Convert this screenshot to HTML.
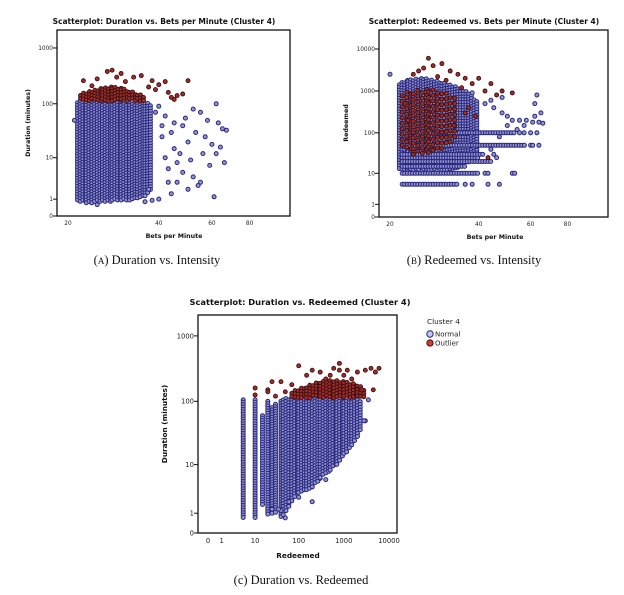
<!DOCTYPE html>
<html><head><meta charset="utf-8">
<style>
body{margin:0;background:#fff}
svg{display:block}
.t{font-family:"DejaVu Sans","Liberation Sans",sans-serif;font-weight:bold;fill:#111}
.tk{font-family:"DejaVu Sans","Liberation Sans",sans-serif;fill:#222}
.cap{font-family:"Liberation Serif",serif;fill:#111;font-size:12.5px}
.nm{fill:#9494d2;stroke:#28287c;stroke-width:1}
.ol{fill:#a02c2a;stroke:#3a1010;stroke-width:0.9}
.lg.nm{fill:#c4c4ec}
.lg.ol{fill:#d03a30}
</style></head>
<body>
<svg id="root" width="624" height="595" viewBox="0 0 624 595" xmlns="http://www.w3.org/2000/svg">
<rect width="624" height="595" fill="#fff"/>
<g>
<text class="t" x="164" y="24" font-size="7.5" text-anchor="middle">Scatterplot: Duration vs. Bets per Minute (Cluster 4)</text>
<g id="pa"></g>
<rect x="57" y="30" width="233" height="186" fill="none" stroke="#111" stroke-width="1.3"/>
<g id="axa"></g>
<text class="t" x="174" y="238" font-size="6.3" text-anchor="middle">Bets per Minute</text>
<text class="t" x="0" y="0" font-size="6.3" text-anchor="middle" transform="translate(30,123) rotate(-90)">Duration (minutes)</text>
<text class="cap" x="157" y="264" text-anchor="middle">(<tspan style="font-variant:small-caps">a</tspan>) Duration vs. Intensity</text>
</g>
<g>
<text class="t" x="484" y="24" font-size="7.5" text-anchor="middle">Scatterplot: Redeemed vs. Bets per Minute (Cluster 4)</text>
<g id="pb"></g>
<rect x="379" y="30" width="229" height="187" fill="none" stroke="#111" stroke-width="1.3"/>
<g id="axb"></g>
<text class="t" x="495" y="239" font-size="6.3" text-anchor="middle">Bets per Minute</text>
<text class="t" x="0" y="0" font-size="6.3" text-anchor="middle" transform="translate(348,123) rotate(-90)">Redeemed</text>
<text class="cap" x="474" y="264" text-anchor="middle">(<tspan style="font-variant:small-caps">b</tspan>) Redeemed vs. Intensity</text>
</g>
<g>
<text class="t" x="300" y="305" font-size="8.3" text-anchor="middle">Scatterplot: Duration vs. Redeemed (Cluster 4)</text>
<g id="pc"></g>
<rect x="198" y="315" width="199" height="218" fill="none" stroke="#111" stroke-width="1.3"/>
<g id="axc"></g>
<text class="t" x="298" y="558" font-size="7.3" text-anchor="middle">Redeemed</text>
<text class="t" x="0" y="0" font-size="7.3" text-anchor="middle" transform="translate(167,424) rotate(-90)">Duration (minutes)</text>
<g>
<text class="tk" x="427" y="324" font-size="7.3">Cluster 4</text>
<g><circle cx="430" cy="334" r="3.2" class="nm lg"/><text class="tk" x="435" y="336.5" font-size="7">Normal</text></g>
<g><circle cx="430" cy="343" r="3.2" class="ol lg"/><text class="tk" x="435" y="345.5" font-size="7">Outlier</text></g>
</g>
<text class="cap" x="301" y="584" text-anchor="middle">(c) Duration vs. Redeemed</text>
</g>
</svg>
<script>
// ---------- Chart A data: Duration vs Bets per Minute ----------
const aCoreX=[21.5,23,24,26,28,30,32,34,36,38];
const aCoreLo=[0.8,0.7,0.7,0.8,0.8,0.9,0.9,1,1.2,2];
const aCoreHi=[110,110,110,110,110,110,110,108,105,95];
const aNormX=[21,40,42,44,45,46,48,50,52,55,58,60,62,63,65,67,62,61,55,50,48,46,44,42,41,43,47,49,51,53,56,57,59,64,66,45,52,54,40,38,36,25,39,41,43,37];
const aNormY=[50,90,60,30,15,8,40,20,80,70,50,18,100,45,35,33,12,1.2,3,2,5,3,1.5,10,25,6,12,55,9,30,12,25,7,16,8,45,4,2.5,1,0.9,0.8,0.6,70,40,3,2];
const aOutCoreX=[22,24,26,28,30,32,34,36];
const aOutCoreHi=[150,170,190,200,190,170,150,135];
const aOutX=[22.5,24,25,27,28,29,30,31,33,35,38,40,42,44,46,48,50,39,37,43,45];
const aOutY=[260,210,280,380,400,300,350,250,300,320,260,220,250,130,140,150,260,180,200,160,120];
const aXTicks=[20,40,60,80];
const aYTicks=[0,1,10,100,1000];
// ---------- Chart B data: Redeemed vs Bets per Minute ----------
const bCoreX=[21.5,23,26,30,34,37,40];
const bCoreLo=[12,12,12,12,14,18,25];
const bCoreHi=[1500,1800,2000,1600,1200,900,500];
const bBandY=[5,10,15,20,25,30,50,100];
const bBandX0=[22,22,22,22,22,22,22,22];
const bBandX1=[34,40,36,44,40,42,58,53];
const bNormX=[20,38,42,45,48,50,52,55,57,60,62,63,65,66,58,54,50,47,45,46,44,62,64,61,36,38,43,47,42,43,52,53,60,61,64,55,57,63,44,48];
const bNormY=[2500,900,500,400,300,250,200,200,150,100,500,800,300,170,200,120,150,80,30,25,40,250,180,180,5,5,5,5,10,10,10,10,50,50,50,100,100,100,600,700];
const bOutCoreX=[22,24,27,30,32,34];
const bOutCoreLo=[40,30,30,35,50,80];
const bOutCoreHi=[900,1000,1100,1000,800,600];
const bOutX=[24,26,27,28,30,32,34,36,40,44,48,52,46,42,38,35,25,29,31,43,37,22.5,23,33,36,39];
const bOutY=[2500,3500,6000,4000,4500,3000,2500,2000,2000,1500,1000,900,800,1000,1500,1200,3000,2200,1800,25,400,500,200,150,300,250];
const bXTicks=[20,40,60,80];
const bYTicks=[0,1,10,100,1000,10000];
// ---------- Chart C data: Duration vs Redeemed ----------
const cStripeX=[5,10,15,20,25,30,40];
const cStripeLo=[0.7,0.7,1.5,0.8,1,1,0.7];
const cStripeHi=[105,105,60,100,80,90,100];
const cCoreX=[45,70,100,150,200,300,500,700,1000,1500,2000,2600];
const cCoreLo=[0.8,2,3,3.5,4,5.5,8,10,14,20,28,45];
const cCoreHi=[110,110,110,110,110,110,110,110,110,110,110,90];
const cNormX=[100,200,300,400,50,60,40,3000,3500,2800,35,25];
const cNormY=[2.5,2,6,5.5,0.7,2,1.2,50,105,50,1.3,1.3];
const cOutCoreX=[70,150,300,600,1000,2000,3000];
const cOutCoreHi=[140,170,200,210,200,180,150];
const cOutX=[10,20,25,30,40,50,70,100,150,200,300,500,800,1000,1500,2000,3000,4000,5000,6000,4500,2500,800,400,10,20,600,1200];
const cOutY=[160,150,200,120,200,140,180,350,250,300,280,250,380,250,220,280,300,320,280,320,150,150,300,220,125,140,320,300];
const cXTicks=[0,1,10,100,1000,10000];
const cYTicks=[0,1,10,100,1000];

const NS='http://www.w3.org/2000/svg';
function mark(g,x,y,cls,name){
  const c=document.createElementNS(NS,'circle');
  c.setAttribute('cx',x.toFixed(1));c.setAttribute('cy',y.toFixed(1));c.setAttribute('r','2');
  c.setAttribute('class',cls);
  
  
  g.appendChild(c);
}
function fillEnv(g,X,Y,xs,lo,hi,cls,name,st,sy){
  sy=sy||st;
  for(let i=0;i<xs.length-1;i++){
    const x0=X(xs[i]),x1=X(xs[i+1]);
    let row=0;
    for(let px=x0;px<x1;px+=st){
      const f=(px-x0)/(x1-x0);
      const yl=Y(lo[i])+(Y(lo[i+1])-Y(lo[i]))*f;
      const yh=Y(hi[i])+(Y(hi[i+1])-Y(hi[i]))*f;
      row++;
      for(let py=yh+(row%2)*sy/2;py<=yl;py+=sy) mark(g,px,py,cls,name);
    }
  }
}
function axes(g,X,Y,xt,yt,x0,y1,fs){
  yt.forEach(v=>{
    const y=Y(v);
    const l=document.createElementNS(NS,'line');
    l.setAttribute('x1',x0-4);l.setAttribute('x2',x0);l.setAttribute('y1',y);l.setAttribute('y2',y);l.setAttribute('stroke','#111');
    
    
    g.appendChild(l);
    const t=document.createElementNS(NS,'text');
    t.setAttribute('x',x0-4);t.setAttribute('y',y+fs*0.35);t.setAttribute('text-anchor','end');t.setAttribute('font-size',fs);t.setAttribute('class','tk');
    t.textContent=v;
    
    
    g.appendChild(t);
  });
  xt.forEach(v=>{
    const t=document.createElementNS(NS,'text');
    t.setAttribute('x',X(v));t.setAttribute('y',y1+fs+3);t.setAttribute('text-anchor','middle');t.setAttribute('font-size',fs);t.setAttribute('class','tk');
    t.textContent=v;
    
    
    g.appendChild(t);
  });
}
(function(){
  const X=v=>68+131*Math.log(v/20), Y=v=>216-56*Math.log10(v+1);
  const g=document.getElementById('pa');
  fillEnv(g,X,Y,aCoreX,aCoreLo,aCoreHi,'nm','point-normal',2.7);
  aNormX.forEach((x,i)=>mark(g,X(x),Y(aNormY[i]),'nm','point-normal'));
  fillEnv(g,X,Y,aOutCoreX,aOutCoreX.map(()=>112),aOutCoreHi,'ol','point-outlier',3);
  aOutX.forEach((x,i)=>mark(g,X(x),Y(aOutY[i]),'ol','point-outlier'));
  axes(document.getElementById('axa'),X,Y,aXTicks,aYTicks,57,216,5.8);
})();
(function(){
  const X=v=>390+128*Math.log(v/20), Y=v=>217-42*Math.log10(v+1);
  const g=document.getElementById('pb');
  fillEnv(g,X,Y,bCoreX,bCoreLo,bCoreHi,'nm','point-normal',2.7);
  bBandY.forEach((y,i)=>{for(let px=X(bBandX0[i]);px<=X(bBandX1[i]);px+=2.6) mark(g,px,Y(y),'nm','point-normal');});
  bNormX.forEach((x,i)=>mark(g,X(x),Y(bNormY[i]),'nm','point-normal'));
  fillEnv(g,X,Y,bOutCoreX,bOutCoreLo,bOutCoreHi,'ol','point-outlier',4.5,5.5);
  bOutX.forEach((x,i)=>mark(g,X(x),Y(bOutY[i]),'ol','point-outlier'));
  axes(document.getElementById('axb'),X,Y,bXTicks,bYTicks,379,217,5.8);
})();
(function(){
  const X=v=>208+45.25*Math.log10(v+1), Y=v=>533-65.7*Math.log10(v+1);
  const g=document.getElementById('pc');
  cStripeX.forEach((x,i)=>{for(let py=Y(cStripeHi[i]);py<=Y(cStripeLo[i]);py+=2.4) mark(g,X(x),py,'nm','point-normal');});
  fillEnv(g,X,Y,cCoreX,cCoreLo,cCoreHi,'nm','point-normal',2.8);
  cNormX.forEach((x,i)=>mark(g,X(x),Y(cNormY[i]),'nm','point-normal'));
  fillEnv(g,X,Y,cOutCoreX,cOutCoreX.map(()=>112),cOutCoreHi,'ol','point-outlier',3.2);
  cOutX.forEach((x,i)=>mark(g,X(x),Y(cOutY[i]),'ol','point-outlier'));
  axes(document.getElementById('axc'),X,Y,cXTicks,cYTicks,198,533,6.8);
})();
</script>
</body></html>
